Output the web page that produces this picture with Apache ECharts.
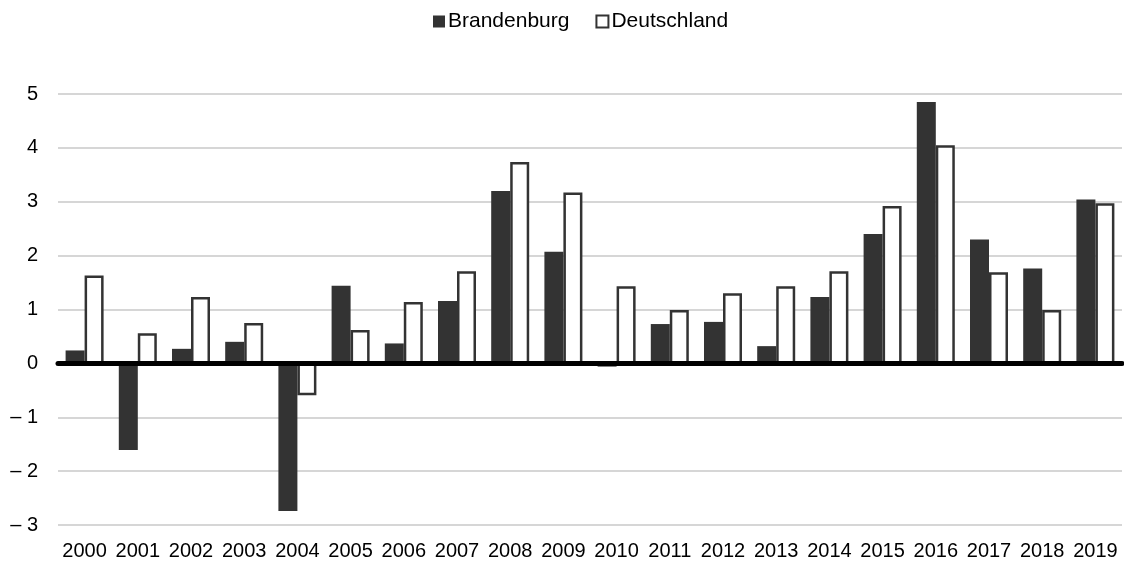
<!DOCTYPE html>
<html>
<head>
<meta charset="utf-8">
<script src="https://cdn.jsdelivr.net/npm/echarts@6/dist/echarts.min.js"></script>
<style>
html,body{margin:0;padding:0;background:#fff;}
#chart{width:1124px;height:563px;}
</style>
</head>
<body>
<div id="chart"></div>
<script>
const years = ['2000','2001','2002','2003','2004','2005','2006','2007','2008','2009','2010','2011','2012','2013','2014','2015','2016','2017','2018','2019'];
const brandenburg = [0.24,-1.61,0.27,0.40,-2.74,1.44,0.37,1.16,3.20,2.07,-0.06,0.73,0.77,0.32,1.23,2.40,4.85,2.30,1.76,3.04];
const deutschland = [1.63,0.56,1.23,0.75,-0.59,0.62,1.14,1.71,3.74,3.17,1.43,0.99,1.30,1.43,1.71,2.92,4.05,1.69,0.99,2.97];
const seriesNames = ['Brandenburg','Deutschland'];

const chart = echarts.init(document.getElementById('chart'));
const font = 'Liberation Sans, Arial, sans-serif';
chart.setOption({
  animation:false,
  textStyle:{fontFamily:font},
  legend:{
    top:6, left:428, icon:'rect', itemWidth:12, itemHeight:12, itemGap:26,
    textStyle:{fontSize:21, color:'#000', fontFamily:font, padding:[0,0,0,-2]},
    data:seriesNames
  },
  grid:{left:58, right:2, top:94, bottom:38, containLabel:false, outerBoundsMode:'none'},
  xAxis:{
    type:'category', data:years,
    axisLine:{onZero:true, lineStyle:{color:'#000', width:5}},
    axisTick:{show:false},
    axisLabel:{color:'#000', fontSize:20, margin:16, interval:0, fontFamily:font},
    z:10
  },
  yAxis:{
    type:'value', min:-3, max:5, interval:1,
    axisLine:{show:false}, axisTick:{show:false},
    splitLine:{lineStyle:{color:'#c8c8c8', width:1.5}},
    axisLabel:{color:'#000', fontSize:20, margin:20, fontFamily:font,
      formatter:v => v < 0 ? '\u2013 ' + Math.abs(v) : String(v)}
  },
  series:[
    {name:seriesNames[0], type:'bar', data:brandenburg, barWidth:19, barGap:'0%',
     itemStyle:{color:'#333333'}},
    {name:seriesNames[1], type:'bar', data:deutschland, barWidth:19,
     itemStyle:{color:'#ffffff', borderColor:'#333333', borderWidth:2.5}}
  ]
});
</script>
</body>
</html>
